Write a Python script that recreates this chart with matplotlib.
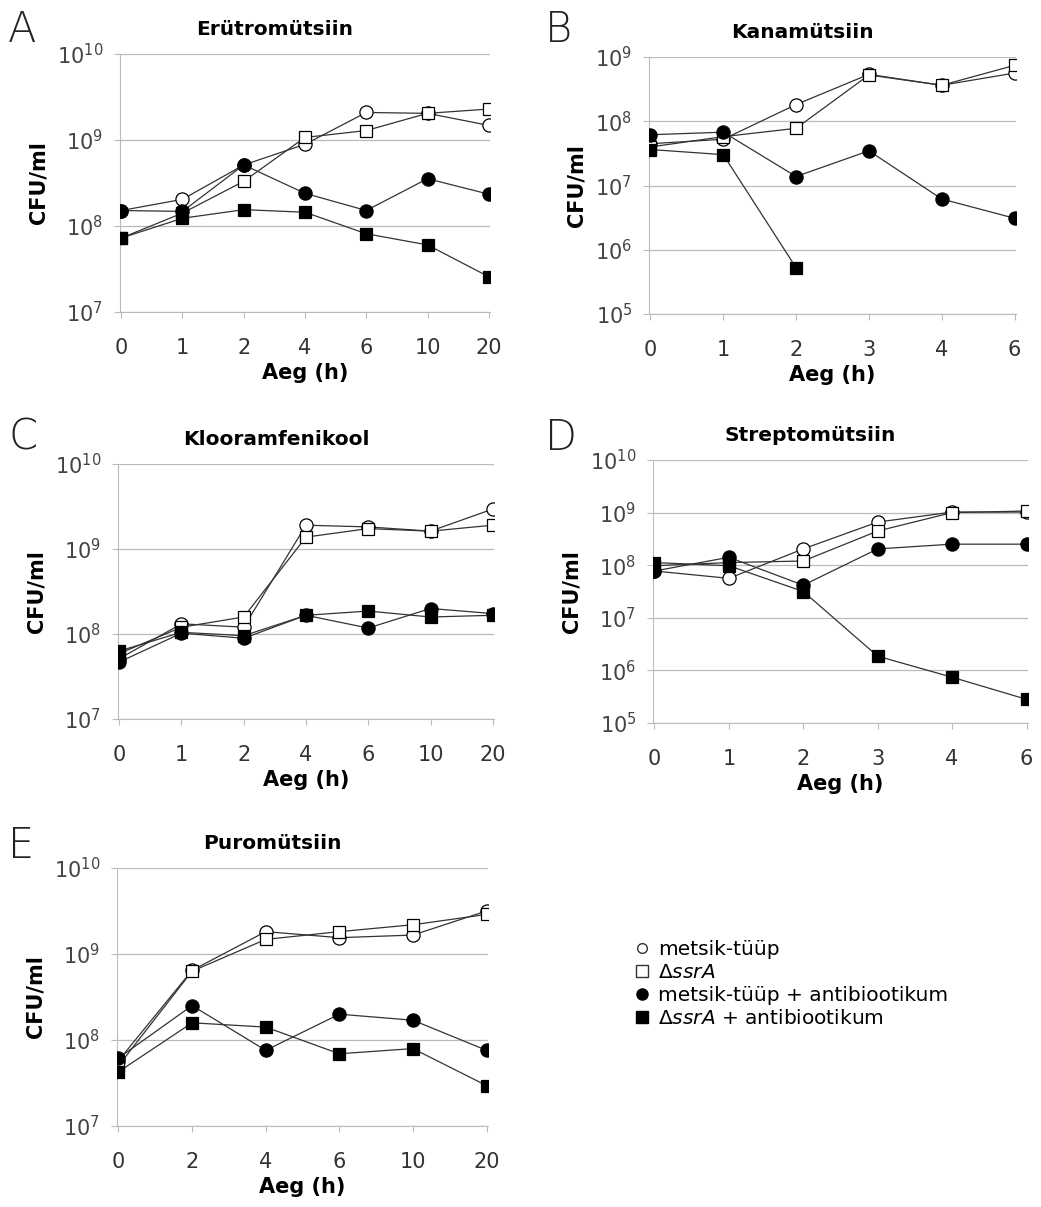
import matplotlib
matplotlib.use('Agg')
import matplotlib.pyplot as plt
import numpy as np

# values, as log10(CFU/ml)
ab_ticks = ['0', '1', '2', '4', '6', '10', '20']
a_wt = [8.18, 8.31, 8.71, 8.95, 9.32, 9.31, 9.17]
a_ssr = [7.86, 8.15, 8.52, 9.03, 9.11, 9.31, 9.36]
a_wt_ab = [8.18, 8.17, 8.71, 8.38, 8.18, 8.55, 8.37]
a_ssr_ab = [7.86, 8.09, 8.19, 8.16, 7.91, 7.78, 7.41]

b_ticks = ['0', '1', '2', '3', '4', '6']
b_wt = [7.65, 7.72, 8.26, 8.73, 8.56, 8.75]
b_ssr = [7.60, 7.76, 7.89, 8.72, 8.56, 8.87]
b_wt_ab = [7.79, 7.83, 7.14, 7.54, 6.79, 6.49]
b_ssr_ab = [7.56, 7.48, 5.72]

c_ticks = ['0', '1', '2', '4', '6', '10', '20']
c_wt = [7.71, 8.12, 8.08, 9.28, 9.26, 9.21, 9.47]
c_ssr = [7.77, 8.08, 8.20, 9.14, 9.24, 9.21, 9.28]
c_wt_ab = [7.67, 8.01, 7.95, 8.22, 8.07, 8.30, 8.24]
c_ssr_ab = [7.80, 8.02, 7.98, 8.22, 8.27, 8.20, 8.22]

d_ticks = ['0', '1', '2', '3', '4', '6']
d_wt = [7.89, 7.75, 8.31, 8.82, 9.01, 9.01]
d_ssr = [7.99, 8.05, 8.08, 8.65, 9.00, 9.03]
d_wt_ab = [7.89, 8.15, 7.62, 8.31, 8.40, 8.40]
d_ssr_ab = [8.05, 7.99, 7.50, 6.27, 5.87, 5.45]

e_ticks = ['0', '2', '4', '6', '10', '20']
e_wt = [7.76, 8.81, 9.26, 9.19, 9.22, 9.50]
e_ssr = [7.70, 8.80, 9.17, 9.26, 9.34, 9.46]
e_wt_ab = [7.79, 8.40, 7.88, 8.30, 8.23, 7.88]
e_ssr_ab = [7.63, 8.20, 8.15, 7.84, 7.90, 7.47]

plt.rcParams['font.family'] = ['DejaVu Sans']
plt.rcParams['mathtext.fontset'] = 'dejavusans'

W, H = 1041, 1207
fig = plt.figure(figsize=(W / 100, H / 100), dpi=100)


def px_axes(l, t, r, b):
    return fig.add_axes([l / W, 1 - b / H, (r - l) / W, (b - t) / H])


def panel(box, letter, title, ticks, series, ylo, yhi, letter_xy):
    ax = px_axes(*box)
    x = np.arange(len(ticks))
    styles = [('o', 'white'), ('s', 'white'), ('o', 'black'), ('s', 'black')]
    for vals, (m, fc) in zip(series, styles):
        ax.plot(x[:len(vals)], 10 ** np.array(vals), color='#333333', lw=0.9,
                marker=m, markersize=9.5 if m == 'o' else 8.5, markerfacecolor=fc,
                markeredgecolor='black', markeredgewidth=0.9, zorder=3)
    ax.set_yscale('log')
    ax.set_ylim(10.0 ** ylo, 10.0 ** yhi)
    ax.set_xlim(-0.02, len(ticks) - 1 + 0.02)
    ax.set_yticks([10.0 ** k for k in range(ylo, yhi + 1)])
    ax.set_yticklabels([r'$10^{%d}$' % k for k in range(ylo, yhi + 1)],
                       fontsize=15, color='#444444')
    ax.yaxis.set_minor_locator(matplotlib.ticker.NullLocator())
    ax.set_xticks(x)
    ax.set_xticklabels(ticks, fontsize=15, color='#333333')
    ax.grid(axis='y', color='#bbbbbb', lw=0.9)
    ax.set_axisbelow(True)
    for s in ['top', 'right']:
        ax.spines[s].set_visible(False)
    for s in ['left', 'bottom']:
        ax.spines[s].set_color('#bbbbbb')
    ax.tick_params(axis='y', length=4, color='#bbbbbb', pad=8)
    ax.tick_params(axis='x', length=4, color='#bbbbbb', pad=15)
    ax.set_ylabel('CFU/ml', fontsize=15, fontweight='bold', labelpad=6)
    ax.set_xlabel('Aeg (h)', fontsize=15, fontweight='bold', labelpad=3)
    # title sits a bit left of the axes centre, as in the original
    tx = 0.5 - 30 / (box[2] - box[0])
    ax.set_title(title, fontsize=14.5, fontweight='bold', pad=14, x=tx)
    fig.text(letter_xy[0] / W, 1 - letter_xy[1] / H, letter, fontsize=30,
             fontweight='light', ha='left', va='center', color='#222222')
    return ax


panel((120, 54, 490, 312), 'A', 'Erütromütsiin', ab_ticks,
      [a_wt, a_ssr, a_wt_ab, a_ssr_ab], 7, 10, (8, 30))
panel((649, 57, 1016, 314), 'B', 'Kanamütsiin', b_ticks,
      [b_wt, b_ssr, b_wt_ab, b_ssr_ab], 5, 9, (545, 30))
panel((118, 464, 494, 719), 'C', 'Klooramfenikool', c_ticks,
      [c_wt, c_ssr, c_wt_ab, c_ssr_ab], 7, 10, (8, 437))
panel((653, 460, 1028, 723), 'D', 'Streptomütsiin', d_ticks,
      [d_wt, d_ssr, d_wt_ab, d_ssr_ab], 5, 10, (545, 437))
panel((117, 868, 488, 1126), 'E', 'Puromütsiin', e_ticks,
      [e_wt, e_ssr, e_wt_ab, e_ssr_ab], 7, 10, (8, 845))

# legend
labels = ['metsik-tüüp', r'$\Delta$$\it{ssrA}$', 'metsik-tüüp + antibiootikum',
          r'$\Delta$$\it{ssrA}$ + antibiootikum']
handles = [
    plt.Line2D([], [], ls='none', marker='o', markersize=7, mfc='white', mec='#333333'),
    plt.Line2D([], [], ls='none', marker='s', markersize=8, mfc='white', mec='#333333'),
    plt.Line2D([], [], ls='none', marker='o', markersize=8, mfc='black', mec='black'),
    plt.Line2D([], [], ls='none', marker='s', markersize=8, mfc='black', mec='black'),
]
fig.legend(handles, labels, loc='upper left', bbox_to_anchor=(622 / W, 1 - 930 / H),
           frameon=False, fontsize=14.5, handletextpad=0.3, labelspacing=0.2,
           borderpad=0, handlelength=1.0)

fig.savefig('out.png', dpi=100, facecolor='white')
